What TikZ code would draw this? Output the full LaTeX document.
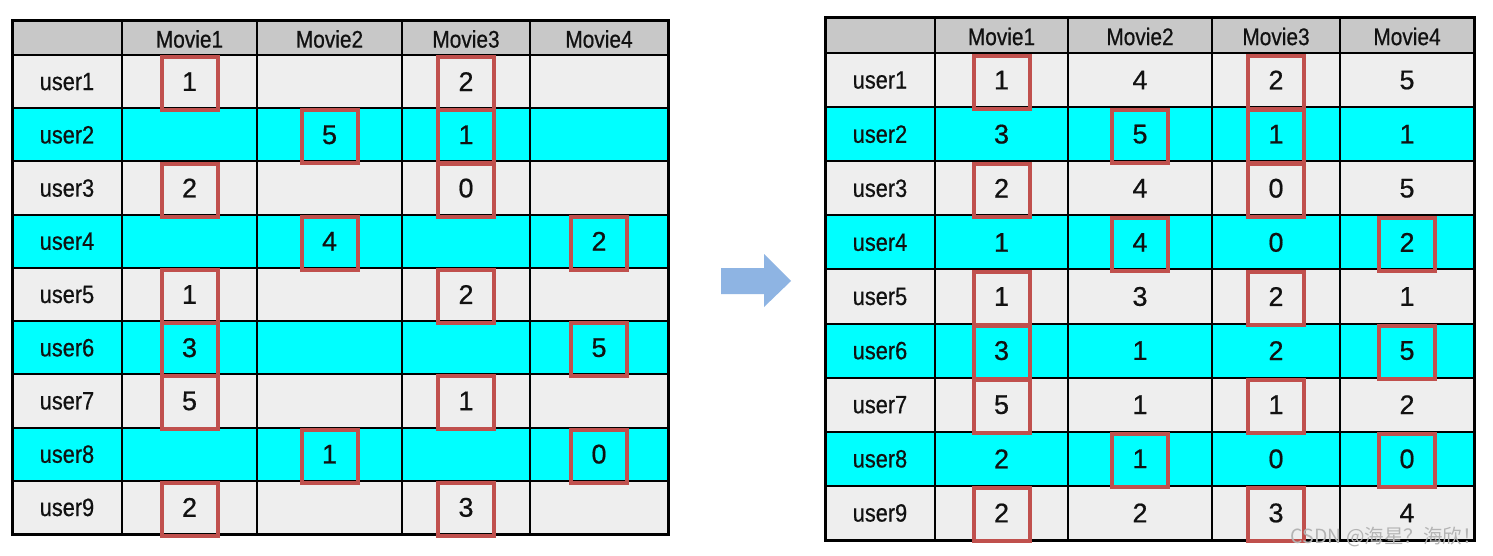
\documentclass[tikz,border=0pt]{standalone}
\usepackage{fontspec}
\setmainfont{Liberation Sans}[FakeStretch=0.87,FakeBold=0.6]
\newfontfamily\numfont{Liberation Sans}[FakeBold=0.6]
\newfontfamily\cjkfont{Noto Sans CJK SC}
\usetikzlibrary{calc}
\definecolor{hdrgray}{HTML}{C8C8C8}
\definecolor{rowgray}{HTML}{EEEEEE}
\definecolor{rowcyan}{HTML}{00FFFF}
\definecolor{boxred}{HTML}{C0504D}
\definecolor{arrowblue}{HTML}{8EB4E3}
\definecolor{inkblack}{HTML}{111111}
\definecolor{wmgray}{HTML}{B4B4B4}

\newcommand\tableframe[5]{%
  \foreach \xx [count=\i from 0] in {#2}{\coordinate (#1x\i) at (\xx,#3);}
  \foreach \i [evaluate=\i as \j using int(\i-1)] in {1,...,5}{%
    \coordinate (#1c\j) at ($(#1x\j)!0.5!(#1x\i)$);}
  \pgfmathsetmacro\rowh{(#5-#4)/9}
  \coordinate (#1hd) at (0,{(#3+#4)/2+1.5});
  \fill[hdrgray] (#1x0) rectangle (#1x5 |- 0,#4);
  \foreach \r in {1,...,9}{%
    \pgfmathsetmacro\yt{#4+(\r-1)*\rowh}
    \pgfmathsetmacro\yb{\yt+\rowh}
    \coordinate (#1r\r) at (0,{(\yt+\yb)/2});
    \pgfmathtruncatemacro\ev{mod(\r,2)}
    \ifnum\ev=0
      \fill[rowcyan] (#1x0 |- 0,\yt) rectangle (#1x5 |- 0,\yb);
    \else
      \fill[rowgray] (#1x0 |- 0,\yt) rectangle (#1x5 |- 0,\yb);
    \fi
  }
  \foreach \r in {0,...,8}{%
    \pgfmathsetmacro\yt{#4+\r*\rowh}
    \draw[gridline] (#1x0 |- 0,\yt) -- (#1x5 |- 0,\yt);
  }
  \foreach \i in {1,...,4}{\draw[gridline] (#1x\i) -- (#1x\i |- 0,#5);}
  \draw[frame] (#1x0) rectangle (#1x5 |- 0,#5);
  \foreach \i in {1,...,4}{\node[hdrtext] (#1h\i) at (#1c\i |- #1hd) {Movie\i};}
  \foreach \r in {1,...,9}{\node[usertext] (#1u\r) at (#1c0 |- #1r\r) {user\r};}
}

\begin{document}
\begin{tikzpicture}[x=1pt,y=-1pt,
  hdrtext/.style={font=\fontsize{24}{28}\selectfont, text=inkblack, inner sep=0},
  usertext/.style={font=\fontsize{25}{29}\selectfont, text=inkblack, inner sep=0},
  valtext/.style={font=\numfont\fontsize{27}{31}\selectfont, text=inkblack, inner sep=0},
  redbox/.style={draw=boxred, line width=4pt, minimum width=56pt, minimum height=53pt, inner sep=0, yshift=-2pt},
  gridline/.style={draw=black, line width=2pt},
  frame/.style={draw=black, line width=3pt},
]
\useasboundingbox (0,0) rectangle (1493,555);
\fill[white] (0,0) rectangle (1493,555);

% left table
\tableframe{L}{12,122,257,402,530,668}{20}{55}{534}
\foreach \r/\c/\v in {1/1/1,1/3/2,2/2/5,2/3/1,3/1/2,3/3/0,4/2/4,4/4/2,5/1/1,5/3/2,6/1/3,6/4/5,7/1/5,7/3/1,8/2/1,8/4/0,9/1/2,9/3/3}{%
  \node[valtext] (L-\r-\c) at (Lc\c |- Lr\r) {\v};}

% right table
\tableframe{R}{825,935,1068,1212,1340,1474}{17}{53}{540}
\foreach \r/\a/\b/\c/\d in {1/1/4/2/5,2/3/5/1/1,3/2/4/0/5,4/1/4/0/2,5/1/3/2/1,6/3/1/2/5,7/5/1/1/2,8/2/1/0/0,9/2/2/3/4}{%
  \foreach \k/\v in {1/\a,2/\b,3/\c,4/\d}{%
    \node[valtext] (R-\r-\k) at (Rc\k |- Rr\r) {\v};}}

% red boxes
\foreach \t in {L,R}{%
  \foreach \r/\c in {1/1,1/3,2/2,2/3,3/1,3/3,4/2,4/4,5/1,5/3,6/1,6/4,7/1,7/3,8/2,8/4,9/1,9/3}{%
    \node[redbox] (\t box-\r-\c) at (\t c\c |- \t r\r) {};}}

% arrow
\fill[arrowblue] (721,268) -- (764,268) -- (764,254) -- (791,281) -- (764,307) -- (764,294) -- (721,294) -- cycle;

% watermark
\node[anchor=east, text=wmgray, font=\cjkfont\fontsize{19.5}{22}\selectfont, inner sep=0] (wm) at (1482,537) {CSDN @海星？海欣！};
\end{tikzpicture}
\end{document}
